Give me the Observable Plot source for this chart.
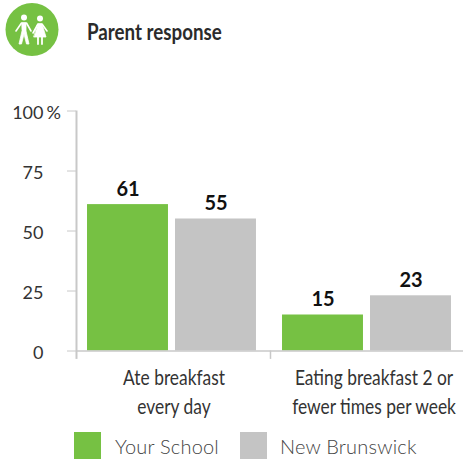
<!DOCTYPE html>
<html>
<head>
<meta charset="utf-8">
<script src="https://cdn.jsdelivr.net/npm/d3@7"></script>
<script src="https://cdn.jsdelivr.net/npm/@observablehq/plot@0.6"></script>
<style>
html,body{margin:0;padding:0;background:#fff;overflow:hidden}
#page{position:relative;width:463px;height:459px;overflow:hidden}
#icon{position:absolute;left:5px;top:3px}
#title{position:absolute;left:87px;top:17px;font:bold 23px Lato,sans-serif;color:#2b2b2b;white-space:nowrap;transform:scaleX(.815);transform-origin:0 0}
#chart{position:absolute;left:0;top:100px;width:466px}
.sw{position:absolute;top:432px;width:27px;height:27px}
.lg{position:absolute;top:434px;font:300 20px Lato,sans-serif;color:#444;letter-spacing:.2px;white-space:nowrap}
</style>
</head>
<body>
<div id="page">
<svg id="icon" width="54" height="54" viewBox="0 0 54 54">
<circle cx="27" cy="26.500" r="26.500" fill="#76c143"/>
<g fill="#fff" stroke="#fff" stroke-linecap="round" stroke-linejoin="round">
<circle cx="19" cy="14.500" r="3" stroke="none"/>
<circle cx="35" cy="15.500" r="3" stroke="none"/>
<path d="M11 28 L16.500 20 H21.500 L26 28" fill="none" stroke-width="1.600"/>
<path d="M17 20 H21 V28 L24 41 H21.500 L19 31 L16.500 41 H14 L17 28Z" stroke-width=".8"/>
<path d="M28 30 L33 21 H37 L42 28" fill="none" stroke-width="1.600"/>
<path d="M33 21 H37 L41 34 H29Z" stroke-width=".8"/>
<path d="M33 34 V41 M37 34 V41" fill="none" stroke-width="1.800"/>
</g>
</svg>
<div id="title">Parent response</div>
<div id="chart"></div>
<div class="sw" style="left:74px;background:#76c143"></div>
<div class="lg" style="left:115px">Your School</div>
<div class="sw" style="left:240px;background:#c4c4c4"></div>
<div class="lg" style="left:280px">New Brunswick</div>
</div>
<script>
const categories = ["Ate breakfast\nevery day", "Eating breakfast 2 or\nfewer times per week"];
const seriesNames = ["Your School", "New Brunswick"];
const yourSchool = [61, 15];
const newBrunswick = [55, 23];
const yTicks = [0, 25, 50, 75, 100];
const colors = ["#76c143", "#c4c4c4"];
const axisColor = "#c8c8c8";
const textColor = "#333";

const rows = categories.flatMap((c, i) => [
  {category: c, series: seriesNames[0], value: yourSchool[i]},
  {category: c, series: seriesNames[1], value: newBrunswick[i]}
]);
const tickFont = {fill: textColor, fontSize: 18, fontFamily: "Lato, sans-serif", fontWeight: 400, label: null};
const catFont = {text: d => d, frameAnchor: "bottom", lineAnchor: "top", dy: 13.5, lineHeight: 1.32, fill: textColor, fontSize: 22, fontFamily: "Lato, sans-serif", className: "xlab"};

const plot = Plot.plot({
  width: 466,
  height: 330,
  marginTop: 10.5,
  marginBottom: 79.5,
  marginLeft: 76,
  marginRight: 0,
  style: {background: "transparent", overflow: "visible", maxWidth: "none"},
  fx: {domain: categories, padding: 0, round: false, label: null, axis: null},
  x: {domain: seriesNames, paddingInner: 0.08, paddingOuter: 0.148, align: 0.423, round: false, label: null, axis: null},
  y: {domain: [0, 100], label: null, axis: null},
  color: {domain: seriesNames, range: colors},
  marks: [
    Plot.barY(rows, {fx: "category", x: "series", y: "value", fill: "series"}),
    Plot.ruleY([0], {stroke: axisColor, strokeWidth: 1.5}),
    Plot.ruleX(categories.slice(0, 1), {fx: d => d, x: () => seriesNames[0], y1: -3.5, y2: 100, dx: -51.5, stroke: axisColor, strokeWidth: 2}),
    Plot.ruleX(categories.slice(1), {fx: d => d, x: () => seriesNames[0], y1: 0, y2: -3.5, dx: -52.5, stroke: axisColor, strokeWidth: 1.5}),
    Plot.text(rows, {fx: "category", x: "series", y: "value", text: "value", dy: -15, fontFamily: "Lato, sans-serif", fontWeight: 700, fontSize: 20, fill: "#111"}),
    Plot.axisY(yTicks, {anchor: "left", tickSize: 9, tickFormat: () => "", stroke: axisColor, label: null}),
    Plot.axisY(yTicks, {anchor: "left", tickSize: 0, tickPadding: 33, dy: 2.5, ...tickFont}),
    Plot.axisY([100], {anchor: "left", tickSize: 0, tickPadding: 0, dx: -30, dy: 2.5, textAnchor: "start", tickFormat: () => "%", ...tickFont}),
    Plot.text(categories.slice(0, 1), {fx: d => d, dx: 0, ...catFont}),
    Plot.text(categories.slice(1), {fx: d => d, dx: 5, ...catFont})
  ]
});
plot.querySelectorAll(".xlab text").forEach(t => {
  t.setAttribute("transform", (t.getAttribute("transform") || "") + " scale(.79,1)");
});
document.getElementById("chart").appendChild(plot);
</script>
</body>
</html>
